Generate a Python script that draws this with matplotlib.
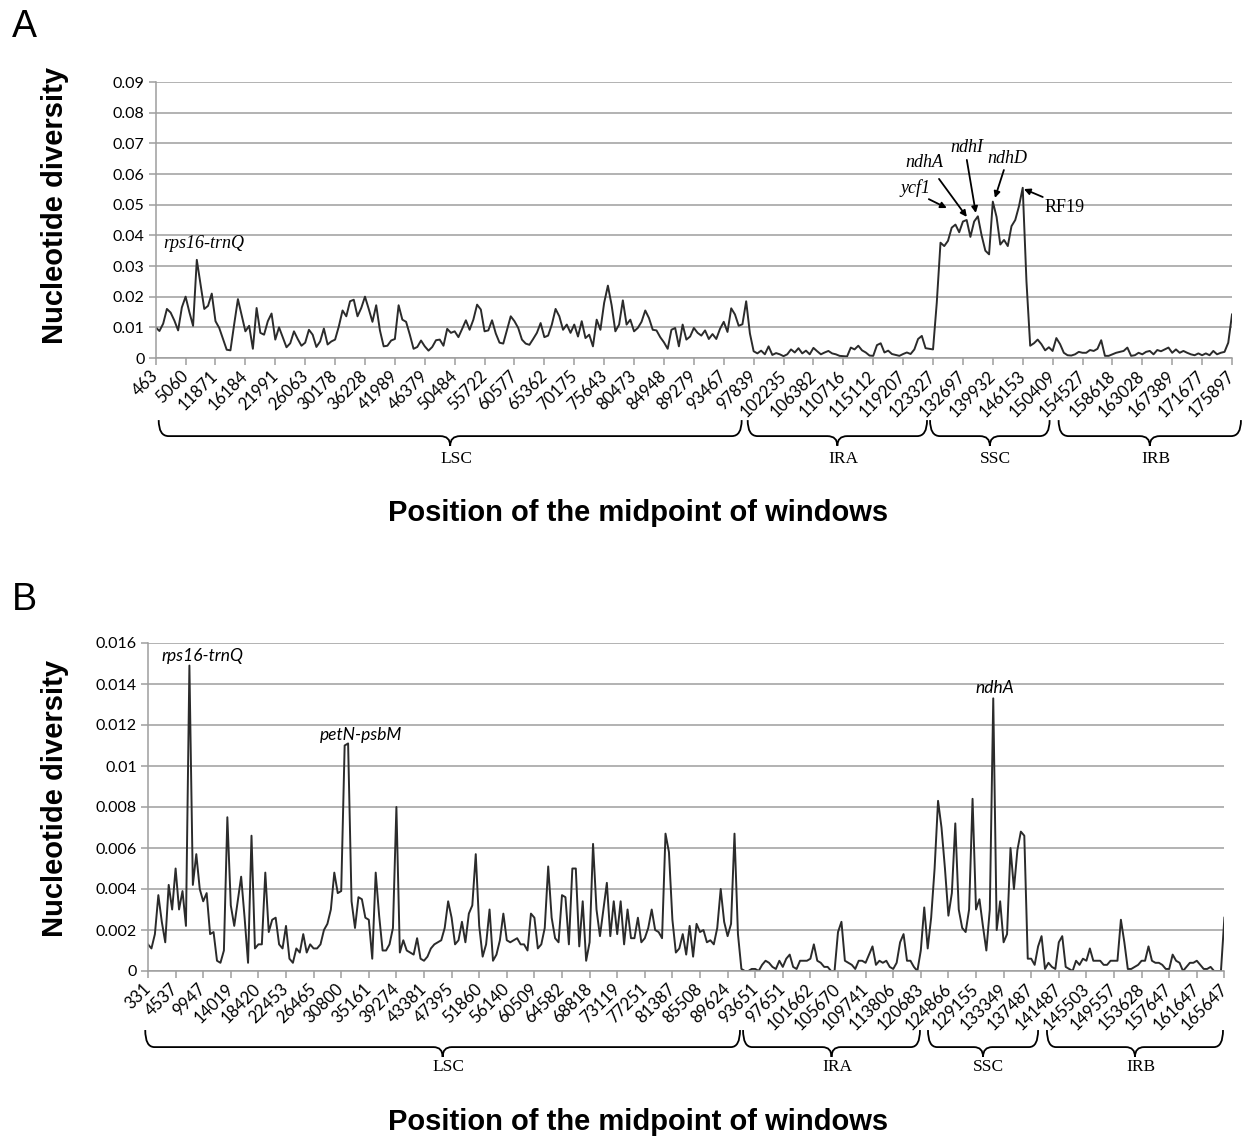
import numpy as np
import matplotlib
matplotlib.use("Agg")
import matplotlib.pyplot as plt
from matplotlib.path import Path
from matplotlib.patches import PathPatch
from matplotlib.transforms import blended_transform_factory, ScaledTranslation

W, H = 1251, 1138
step = 8  # windows between two labelled ticks

# ---------------- data ----------------
ticks_a = [463, 5060, 11871, 16184, 21991, 26063, 30178, 36228, 41989, 46379,
           50484, 55722, 60577, 65362, 70175, 75643, 80473, 84948, 89279, 93467,
           97839, 102235, 106382, 110716, 115112, 119207, 123327, 132697, 139932,
           146153, 150409, 154527, 158618, 163028, 167389, 171677, 175897]

pi_a = [
    0.0100, 0.0088, 0.0112, 0.0160, 0.0148, 0.0122, 0.0090, 0.0165,
    0.0200, 0.0150, 0.0105, 0.0320, 0.0240, 0.0160, 0.0170, 0.0210,
    0.0120, 0.0098, 0.0062, 0.0027, 0.0025, 0.0110, 0.0192, 0.0140,
    0.0087, 0.0105, 0.0030, 0.0163, 0.0082, 0.0076, 0.0120, 0.0145,
    0.0060, 0.0100, 0.0068, 0.0035, 0.0048, 0.0087, 0.0062, 0.0040,
    0.0050, 0.0092, 0.0076, 0.0036, 0.0054, 0.0096, 0.0044, 0.0054,
    0.0060, 0.0103, 0.0155, 0.0136, 0.0185, 0.0190, 0.0136, 0.0163,
    0.0200, 0.0160, 0.0118, 0.0172, 0.0090, 0.0038, 0.0040, 0.0057,
    0.0062, 0.0172, 0.0125, 0.0118, 0.0076, 0.0030, 0.0036, 0.0057,
    0.0038, 0.0024, 0.0036, 0.0058, 0.0060, 0.0040, 0.0095, 0.0082,
    0.0087, 0.0068, 0.0095, 0.0123, 0.0092, 0.0125, 0.0174, 0.0158,
    0.0087, 0.0090, 0.0123, 0.0080, 0.0050, 0.0047, 0.0092, 0.0136,
    0.0120, 0.0098, 0.0060, 0.0047, 0.0043, 0.0062, 0.0082, 0.0114,
    0.0068, 0.0073, 0.0109, 0.0160, 0.0136, 0.0092, 0.0109, 0.0082,
    0.0109, 0.0070, 0.0120, 0.0065, 0.0076, 0.0038, 0.0125, 0.0092,
    0.0180, 0.0236, 0.0172, 0.0087, 0.0109, 0.0188, 0.0109, 0.0125,
    0.0087, 0.0098, 0.0118, 0.0155, 0.0130, 0.0092, 0.0090, 0.0068,
    0.0051, 0.0030, 0.0092, 0.0098, 0.0038, 0.0109, 0.0060, 0.0070,
    0.0098, 0.0082, 0.0073, 0.0090, 0.0062, 0.0078, 0.0062, 0.0095,
    0.0118, 0.0085, 0.0162, 0.0142, 0.0105, 0.0110, 0.0185, 0.0080,
    0.0022, 0.0015, 0.0024, 0.0012, 0.0038, 0.0010, 0.0016, 0.0012,
    0.0006, 0.0012, 0.0028, 0.0018, 0.0032, 0.0015, 0.0024, 0.0012,
    0.0033, 0.0022, 0.0012, 0.0018, 0.0023, 0.0015, 0.0012, 0.0007,
    0.0006, 0.0005, 0.0034, 0.0028, 0.0040, 0.0025, 0.0018, 0.0008,
    0.0007, 0.0042, 0.0048, 0.0018, 0.0024, 0.0013, 0.0010, 0.0007,
    0.0013, 0.0018, 0.0013, 0.0028, 0.0062, 0.0072, 0.0032, 0.0030,
    0.0028, 0.0180, 0.0376, 0.0365, 0.0382, 0.0425, 0.0435, 0.0410,
    0.0445, 0.0450, 0.0395, 0.0445, 0.0462, 0.0400, 0.0350, 0.0338,
    0.0510, 0.0460, 0.0370, 0.0385, 0.0365, 0.0430, 0.0450, 0.0495,
    0.0555, 0.0250, 0.0040, 0.0048, 0.0060, 0.0045, 0.0025, 0.0035,
    0.0023, 0.0065, 0.0045, 0.0017, 0.0009, 0.0008, 0.0012, 0.0020,
    0.0017, 0.0017, 0.0026, 0.0023, 0.0030, 0.0058, 0.0007, 0.0007,
    0.0012, 0.0017, 0.0020, 0.0023, 0.0034, 0.0007, 0.0009, 0.0017,
    0.0012, 0.0020, 0.0023, 0.0012, 0.0026, 0.0022, 0.0028, 0.0034,
    0.0017, 0.0028, 0.0017, 0.0023, 0.0017, 0.0012, 0.0009, 0.0015,
    0.0009, 0.0015, 0.0009, 0.0023, 0.0012, 0.0017, 0.0020, 0.0050,
    0.0142,
]

ticks_b = [331, 4537, 9947, 14019, 18420, 22453, 26465, 30800, 35161, 39274,
           43381, 47395, 51860, 56140, 60509, 64582, 68818, 73119, 77251, 81387,
           85508, 89624, 93651, 97651, 101662, 105670, 109741, 113806, 120683,
           124866, 129155, 133349, 137487, 141487, 145503, 149557, 153628,
           157647, 161647, 165647]

pi_b = [
    0.0013, 0.0011, 0.0018, 0.0037, 0.0024, 0.0014, 0.0042, 0.0030,
    0.0050, 0.0030, 0.0039, 0.0022, 0.0149, 0.0042, 0.0057, 0.0040,
    0.0034, 0.0038, 0.0018, 0.0019, 0.0005, 0.0004, 0.0010, 0.0075,
    0.0032, 0.0022, 0.0034, 0.0046, 0.0026, 0.0004, 0.0066, 0.0011,
    0.0013, 0.0013, 0.0048, 0.0019, 0.0025, 0.0026, 0.0013, 0.0011,
    0.0022, 0.0006, 0.0004, 0.0011, 0.0009, 0.0018, 0.0009, 0.0013,
    0.0011, 0.0011, 0.0013, 0.0020, 0.0023, 0.0030, 0.0048, 0.0038,
    0.0039, 0.0110, 0.0111, 0.0034, 0.0021, 0.0036, 0.0035, 0.0026,
    0.0025, 0.0006, 0.0048, 0.0027, 0.0010, 0.0010, 0.0013, 0.0021,
    0.0080, 0.0009, 0.0015, 0.0010, 0.0009, 0.0008, 0.0016, 0.0006,
    0.0005, 0.0007, 0.0011, 0.0013, 0.0014, 0.0015, 0.0021, 0.0034,
    0.0026, 0.0013, 0.0015, 0.0024, 0.0014, 0.0028, 0.0032, 0.0057,
    0.0022, 0.0007, 0.0013, 0.0030, 0.0005, 0.0008, 0.0015, 0.0028,
    0.0015, 0.0014, 0.0015, 0.0016, 0.0013, 0.0013, 0.0010, 0.0028,
    0.0026, 0.0011, 0.0013, 0.0021, 0.0051, 0.0026, 0.0016, 0.0014,
    0.0037, 0.0036, 0.0013, 0.0050, 0.0050, 0.0012, 0.0034, 0.0005,
    0.0014, 0.0062, 0.0030, 0.0017, 0.0030, 0.0043, 0.0017, 0.0034,
    0.0018, 0.0034, 0.0013, 0.0030, 0.0016, 0.0016, 0.0026, 0.0014,
    0.0016, 0.0021, 0.0030, 0.0020, 0.0019, 0.0016, 0.0067, 0.0058,
    0.0025, 0.0009, 0.0011, 0.0018, 0.0008, 0.0022, 0.0007, 0.0023,
    0.0019, 0.0020, 0.0014, 0.0015, 0.0013, 0.0021, 0.0040, 0.0024,
    0.0017, 0.0023, 0.0067, 0.0018, 0.0001, 0.0000, 0.0000, 0.0001,
    0.0001, 0.0000, 0.0003, 0.0005, 0.0004, 0.0002, 0.0001, 0.0005,
    0.0002, 0.0006, 0.0008, 0.0002, 0.0001, 0.0005, 0.0005, 0.0005,
    0.0006, 0.0013, 0.0005, 0.0004, 0.0002, 0.0002, 0.0000, 0.0000,
    0.0019, 0.0024, 0.0005, 0.0004, 0.0003, 0.0001, 0.0005, 0.0005,
    0.0004, 0.0008, 0.0012, 0.0003, 0.0005, 0.0004, 0.0005, 0.0002,
    0.0001, 0.0004, 0.0014, 0.0018, 0.0005, 0.0005, 0.0002, 0.0000,
    0.0010, 0.0031, 0.0011, 0.0026, 0.0050, 0.0083, 0.0070, 0.0050,
    0.0027, 0.0038, 0.0072, 0.0030, 0.0021, 0.0019, 0.0030, 0.0084,
    0.0030, 0.0035, 0.0022, 0.0010, 0.0030, 0.0133, 0.0020, 0.0034,
    0.0014, 0.0018, 0.0060, 0.0040, 0.0059, 0.0068, 0.0066, 0.0006,
    0.0006, 0.0003, 0.0012, 0.0017, 0.0001, 0.0004, 0.0002, 0.0001,
    0.0014, 0.0017, 0.0002, 0.0001, 0.0000, 0.0005, 0.0003, 0.0006,
    0.0005, 0.0011, 0.0005, 0.0005, 0.0005, 0.0003, 0.0003, 0.0005,
    0.0005, 0.0005, 0.0025, 0.0014, 0.0001, 0.0001, 0.0002, 0.0003,
    0.0005, 0.0005, 0.0012, 0.0005, 0.0004, 0.0004, 0.0003, 0.0001,
    0.0001, 0.0008, 0.0005, 0.0004, 0.0000, 0.0002, 0.0004, 0.0004,
    0.0005, 0.0003, 0.0001, 0.0001, 0.0002, 0.0000, 0.0000, 0.0000,
    0.0026,
]

regions = ["LSC", "IRA", "SSC", "IRB"]
# region extent in tick units
spans_a = [(0.1, 19.6), (19.8, 25.8), (25.9, 29.9), (30.2, 36.3)]
spans_b = [(-0.1, 21.45), (21.56, 27.97), (28.26, 32.25), (32.57, 38.95)]

GRID = "#9e9e9e"
LINE = "#2b2b2b"


def fx(px):
    return px / W


def fy(py):
    return 1 - py / H


def brace(ax, x0, x1, ytop, yline, ytip, r):
    xm = (x0 + x1) / 2
    verts = [(x0, ytop), (x0, yline), (x0 + r, yline), (xm - r, yline),
             (xm, yline), (xm, ytip), (xm, yline), (xm + r, yline),
             (x1 - r, yline), (x1, yline), (x1, ytop)]
    codes = [Path.MOVETO, Path.CURVE3, Path.CURVE3, Path.LINETO,
             Path.CURVE3, Path.CURVE3, Path.CURVE3, Path.CURVE3,
             Path.LINETO, Path.CURVE3, Path.CURVE3]
    tr = blended_transform_factory(ax.transData, ax.transAxes)
    ax.add_patch(PathPatch(Path(verts, codes), fill=False, lw=1.3,
                           edgecolor="black", transform=tr, clip_on=False))


def panel(rect, ticks, values, ymax, ndiv, spans, ylev, dx):
    ax = fig.add_axes(rect)
    x = np.arange(len(values))
    ax.plot(x, values, color=LINE, lw=1.4)
    ax.set_xlim(0, len(values) - 1)
    ax.set_ylim(0, ymax)
    yt = np.linspace(0, ymax, ndiv + 1)
    ax.set_yticks(yt)
    ax.set_yticklabels(["0"] + ["%g" % round(v, 4) for v in yt[1:]],
                       family="Lato", fontsize=11.5)
    ax.yaxis.grid(True, color=GRID, lw=1.1)
    ax.set_axisbelow(True)
    for s in ["top", "right"]:
        ax.spines[s].set_visible(False)
    for s in ["left", "bottom"]:
        ax.spines[s].set_color(GRID)
        ax.spines[s].set_linewidth(1.1)
    ax.set_xticks(x[::step])
    labs = ax.set_xticklabels([str(t) for t in ticks], rotation=45,
                              ha="right", va="center", rotation_mode="anchor",
                              family="Lato", fontsize=12)
    off = ScaledTranslation(dx / 100, 0, fig.dpi_scale_trans)
    for lab in labs:
        lab.set_transform(lab.get_transform() + off)
    ax.tick_params(axis="both", direction="out", length=5, width=1.1,
                   color=GRID, pad=3)
    ax.tick_params(axis="x", pad=6)
    ytop, yline, ytip, ylab = ylev
    tr = blended_transform_factory(ax.transData, ax.transAxes)
    for name, (a, b) in zip(regions, spans):
        brace(ax, a * step, b * step, ytop, yline, ytip, 0.33 * step)
        ax.text((a + b) / 2 * step + 0.2 * step, ylab, name, transform=tr,
                ha="center", va="center", family="Liberation Serif",
                fontsize=12.5)
    return ax


fig = plt.figure(figsize=(W / 100, H / 100), dpi=100)

# panel A
ax_a = panel([fx(155.7), fy(358), fx(1232) - fx(155.7), (358 - 82) / H],
             ticks_a, pi_a, 0.09, 9, spans_a,
             (-0.225, -0.283, -0.318, -0.365), 13)

serif_it = dict(family="Liberation Serif", style="italic", fontsize=13)
ax_a.text(0.24 * step, 0.0375, "rps16-trnQ", ha="left", va="center", **serif_it)
notes_a = [
    ("ycf1", (25.43, 0.0554), (25.86, 0.0518), (26.46, 0.0489)),
    ("ndhA", (25.70, 0.0636), (26.20, 0.0584), (27.13, 0.0460)),
    ("ndhI", (27.13, 0.0685), (27.13, 0.0646), (27.43, 0.0473)),
    ("ndhD", (28.47, 0.0652), (28.37, 0.0613), (28.07, 0.0522)),
]
for name, txt, tail, head in notes_a:
    ax_a.text(txt[0] * step, txt[1], name, ha="center", va="center", **serif_it)
    ax_a.annotate("", xy=(head[0] * step, head[1]),
                  xytext=(tail[0] * step, tail[1]),
                  arrowprops=dict(arrowstyle="-|>", lw=1.3, color="black",
                                  mutation_scale=9, shrinkA=0, shrinkB=0))
ax_a.text(29.74 * step, 0.0492, "RF19", ha="left", va="center",
          family="Liberation Serif", fontsize=13)
ax_a.annotate("", xy=(29.04 * step, 0.0551), xytext=(29.67 * step, 0.0525),
              arrowprops=dict(arrowstyle="-|>", lw=1.3, color="black",
                              mutation_scale=9, shrinkA=0, shrinkB=0))

# panel B
ax_b = panel([fx(148), fy(971), fx(1224.4) - fx(148), (971 - 643) / H],
             ticks_b, pi_b, 0.016, 8, spans_b,
             (-0.180, -0.232, -0.262, -0.292), 8)

sans_it = dict(family="Lato", style="italic", fontsize=12.5)
ax_b.text(1.99 * step, 0.01537, "rps16-trnQ", ha="center", va="center", **sans_it)
ax_b.text(7.72 * step, 0.0115, "petN-psbM", ha="center", va="center", **sans_it)
ax_b.text(30.69 * step, 0.0138, "ndhA", ha="center", va="center", **sans_it)

# axis titles and panel letters
lab = dict(family="Liberation Sans", weight="bold", fontsize=21)
fig.text(fx(55), fy(205), "Nucleotide diversity", rotation=90,
         ha="center", va="center", **lab)
fig.text(fx(55), fy(798), "Nucleotide diversity", rotation=90,
         ha="center", va="center", **lab)
fig.text(fx(638), fy(513), "Position of the midpoint of windows",
         ha="center", va="center", **lab)
fig.text(fx(638), fy(1122), "Position of the midpoint of windows",
         ha="center", va="center", **lab)
fig.text(fx(24), fy(27), "A", ha="center", va="center",
         family="Liberation Sans", fontsize=27)
fig.text(fx(24), fy(600), "B", ha="center", va="center",
         family="Liberation Sans", fontsize=27)

fig.savefig("out.png", dpi=100)
